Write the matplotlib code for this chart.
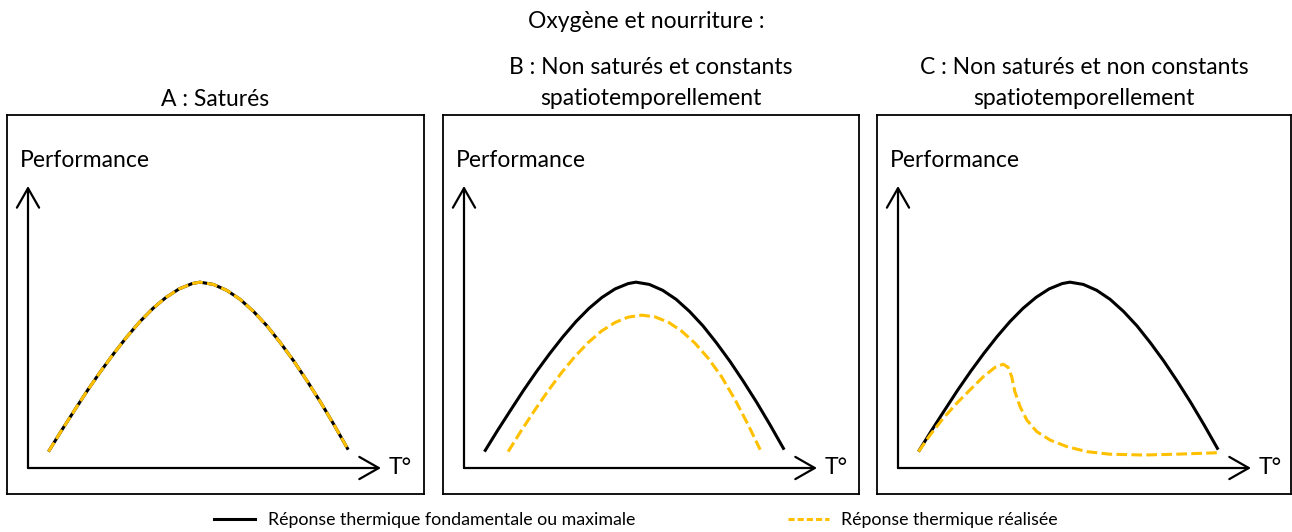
"""Thermal performance curves under three oxygen / food scenarios."""

import matplotlib

matplotlib.use("Agg")
import matplotlib.pyplot as plt
from matplotlib.lines import Line2D

plt.rcParams["font.family"] = ["Lato", "DejaVu Sans"]

# temperature (arbitrary units, x arrow tip at 100) and performance (y arrow tip at 100)
temp_fund = [5.8, 9.5, 13.2, 16.9, 20.6, 24.3, 28.0, 31.7, 35.4, 39.1, 42.8, 46.5,
             48.7, 52.5, 56.3, 60.1, 63.9, 67.7, 71.5, 75.3, 79.1, 82.9, 86.7, 90.7]
perf_fund = [5.8, 13.3, 20.5, 27.6, 34.3, 40.6, 46.5, 51.9, 56.6, 60.5, 63.5, 65.4,
             65.9, 65.1, 63.0, 59.8, 55.5, 50.4, 44.4, 37.9, 30.8, 23.3, 15.3, 6.5]

# realised response, constant limitation
temp_b = [12.5, 16.3, 20.1, 23.9, 27.7, 31.4, 35.2, 39.0, 42.8, 46.5, 50.3, 54.1,
          57.9, 61.7, 65.4, 69.2, 73.0, 76.8, 80.5, 83.9]
perf_b = [5.8, 13.4, 20.6, 27.5, 33.9, 39.5, 44.5, 48.6, 51.6, 53.5, 54.2, 53.6,
          51.7, 48.5, 44.3, 38.9, 32.3, 24.2, 15.3, 6.5]

# realised response, fluctuating limitation
temp_c = [5.8, 9.1, 12.8, 16.6, 20.4, 24.2, 27.5, 29.8, 31.2, 32.2, 33.1, 34.6,
          36.5, 39.3, 43.1, 47.8, 53.5, 59.9, 69.5, 79.0, 90.3]
perf_c = [5.8, 11.7, 17.6, 22.9, 27.7, 32.4, 35.7, 36.8, 35.7, 32.4, 27.1, 21.7,
          17.0, 12.9, 9.9, 7.6, 5.8, 4.9, 4.6, 4.9, 5.4]

panel_titles = [
    "A : Saturés",
    "B : Non saturés et constants\nspatiotemporellement",
    "C : Non saturés et non constants\nspatiotemporellement",
]
realised = [(temp_fund, perf_fund), (temp_b, perf_b), (temp_c, perf_c)]

BLACK = "black"
GOLD = "#FFC000"
W, H = 1292, 532
PX_T, PX_P = 3.53, 2.82  # pixels per data unit
TXT = 16.5

fig = plt.figure(figsize=(W / 100, H / 100), dpi=100)

boxes = [(7, 417), (443, 416), (877, 414)]  # left, width in pixels
top, bottom = 115, 494

for (left, width), title, (tr, pr) in zip(boxes, panel_titles, realised):
    ax = fig.add_axes([left / W, (H - bottom) / H, width / W, (bottom - top) / H])
    ax.set_xlim(-21 / PX_T, (width - 21) / PX_T)
    ax.set_ylim(-26 / PX_P, 353 / PX_P)
    ax.set_xticks([])
    ax.set_yticks([])
    for s in ax.spines.values():
        s.set_linewidth(1.3)
        s.set_color(BLACK)

    arrow = dict(arrowstyle="->,head_length=0.7,head_width=0.4", lw=1.6,
                 color=BLACK, mutation_scale=20, shrinkA=0, shrinkB=0)
    ax.annotate("", xy=(0, 100), xytext=(0, 0), arrowprops=arrow)
    ax.annotate("", xy=(100, 0), xytext=(0, 0), arrowprops=arrow)

    ax.text(-2.3, 108.9, "Performance", fontsize=TXT, ha="left", va="center")
    ax.text(102.3, 0, "T°", fontsize=TXT, ha="left", va="center")

    ax.plot(temp_fund, perf_fund, color=BLACK, lw=2.2, solid_capstyle="butt",
            solid_joinstyle="round")
    ax.plot(tr, pr, color=GOLD, lw=2.2, dashes=(3.5, 1.4), dash_capstyle="butt",
            dash_joinstyle="round")

    cx = (left + width / 2) / W
    ax_title_y = (H - 99) / H if "\n" not in title else (H - 83) / H
    fig.text(cx, ax_title_y, title, fontsize=TXT, ha="center", va="center",
             linespacing=1.6)

fig.text(646 / W, (H - 21) / H, "Oxygène et nourriture :", fontsize=TXT,
         ha="center", va="center")

handles = [
    Line2D([], [], color=BLACK, lw=2.2),
    Line2D([], [], color=GOLD, lw=2.2, dashes=(2.0, 1.0)),
]
fig.legend(handles,
           ["Réponse thermique fondamentale ou maximale", "Réponse thermique réalisée"],
           loc="center", bbox_to_anchor=(636 / W, (H - 520) / H), ncol=2,
           frameon=False, fontsize=12.8, handlelength=2.3, handletextpad=0.7,
           columnspacing=8.6, borderpad=0)

fig.savefig("out.png", dpi=100)
